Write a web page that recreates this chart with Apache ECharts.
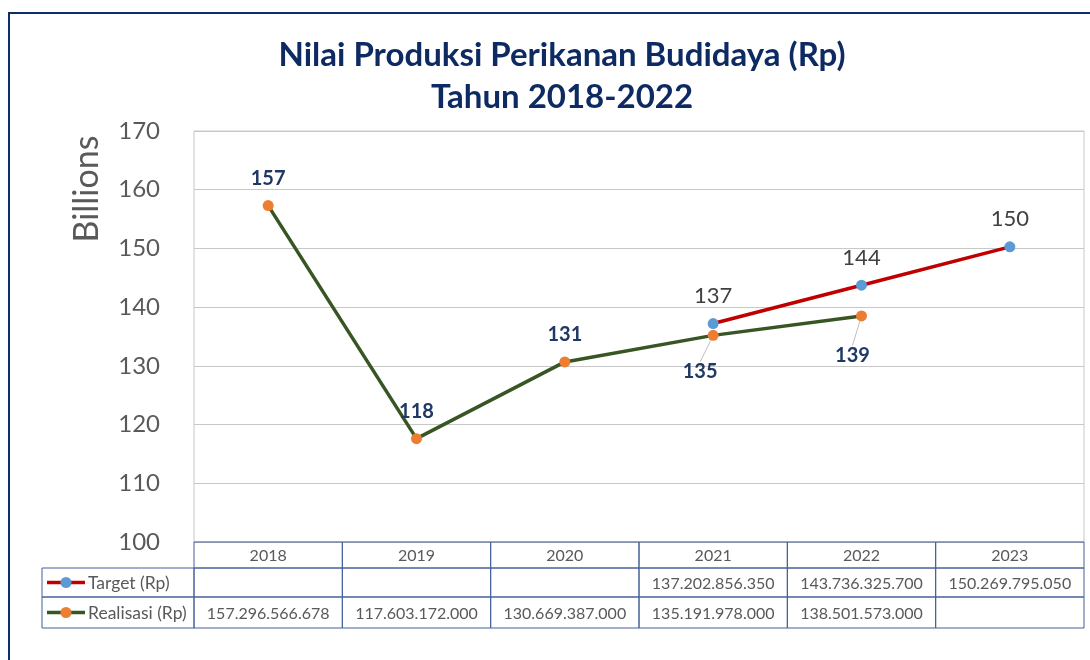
<!DOCTYPE html>
<html>
<head>
<meta charset="utf-8">
<script src="https://cdn.jsdelivr.net/npm/echarts@6/dist/echarts.min.js"></script>
<style>
  html, body { margin: 0; padding: 0; background: #fff; }
  #main { width: 1090px; height: 660px; }
</style>
</head>
<body>
<div id="main"></div>
<script>
// data
var years = ['2018', '2019', '2020', '2021', '2022', '2023'];
var targetRp = [null, null, null, 137202856350, 143736325700, 150269795050];
var realisasiRp = [157296566678, 117603172000, 130669387000, 135191978000, 138501573000, null];
var yTicks = [100, 110, 120, 130, 140, 150, 160, 170];

var chart = echarts.init(document.getElementById('main'));

function toBillions(v) { return v == null ? null : v / 1e9; }
function fmtRp(v) {
  if (v == null) return '';
  return String(v).replace(/\B(?=(\d{3})+(?!\d))/g, '.');
}

// grid in px
var gLeft = 194, gRight = 6, gTop = 131, gBottom = 118;
var rowH = [26, 29, 31];
var tableBorder = '#44619a';
var textGray = '#595959';

// 2021 and 2022 realisasi labels sit below with a leader line
var realData = realisasiRp.map(function (v, i) {
  var item = { value: toBillions(v) };
  if (i === 3 || i === 4) {
    item.label = { position: 'bottom' };
    item.labelLine = { show: true, lineStyle: { color: '#bfbfbf', width: 1 } };
  }
  return item;
});

var option = {
  animation: false,
  title: {
    text: 'Nilai Produksi Perikanan Budidaya (Rp)\nTahun 2018-2022',
    left: 557,
    textAlign: 'center',
    top: 29,
    textStyle: {
      fontFamily: 'Lato',
      fontWeight: 'bold',
      fontSize: 33,
      lineHeight: 42,
      color: '#0e2a63'
    }
  },
  grid: {
    left: gLeft, right: gRight, top: gTop, bottom: gBottom,
    show: true, borderColor: '#c8c8c8', borderWidth: 1
  },
  xAxis: {
    type: 'category',
    data: years,
    boundaryGap: true,
    axisLine: { show: false },
    axisTick: { show: false },
    axisLabel: { show: false }
  },
  yAxis: {
    type: 'value',
    min: yTicks[0],
    max: yTicks[yTicks.length - 1],
    interval: 10,
    axisLine: { show: false },
    axisTick: { show: false },
    axisLabel: { fontFamily: 'Lato', fontSize: 24, color: textGray, margin: 34 },
    splitLine: { lineStyle: { color: '#c8c8c8', width: 1 } }
  },
  series: [
    {
      name: 'Realisasi (Rp)',
      type: 'line',
      data: realData,
      symbol: 'circle',
      symbolSize: 11,
      lineStyle: { color: '#375623', width: 3.5 },
      itemStyle: { color: '#ed7d31' },
      z: 2,
      label: {
        show: true,
        position: 'top',
        distance: 12,
        fontFamily: 'Lato',
        fontWeight: 'bold',
        fontSize: 20,
        color: '#1f3864',
        formatter: function (p) { return Math.round(p.value); }
      },
      labelLayout: function (p) {
        if (p.dataIndex === 3) return { dx: -13, dy: 9 };
        if (p.dataIndex === 4) return { dx: -9, dy: 12 };
        return {};
      }
    },
    {
      name: 'Target (Rp)',
      type: 'line',
      data: targetRp.map(toBillions),
      symbol: 'circle',
      symbolSize: 11,
      lineStyle: { color: '#c00000', width: 3.5 },
      itemStyle: { color: '#5b9bd5' },
      z: 3,
      label: {
        show: true,
        position: 'top',
        distance: 11,
        fontFamily: 'Lato',
        fontSize: 22,
        color: '#404040',
        formatter: function (p) { return Math.round(p.value); }
      }
    }
  ]
};
chart.setOption(option);

// data table under the plot, laid out from the category axis
function buildTable() {
  var W = chart.getWidth(), H = chart.getHeight();
  var top0 = H - gBottom;
  var cx = years.map(function (y, i) { return chart.convertToPixel({ xAxisIndex: 0 }, i); });
  var cw = cx[1] - cx[0];
  var els = [];
  var txt = function (x, y, s, align, size) {
    return {
      type: 'text', x: x, y: y, silent: true,
      style: { text: s, fontFamily: 'Lato', fontSize: size || 16, fill: textGray, align: align || 'center', verticalAlign: 'middle' }
    };
  };
  var cell = function (x, y, w, h) {
    return { type: 'rect', silent: true, shape: { x: x, y: y, width: w, height: h },
      style: { fill: null, stroke: tableBorder, lineWidth: 1 } };
  };
  var y1 = top0 + rowH[0], y2 = y1 + rowH[1];
  var rows = [
    { y: top0, h: rowH[0], vals: years },
    { y: y1, h: rowH[1], vals: targetRp.map(fmtRp) },
    { y: y2, h: rowH[2], vals: realisasiRp.map(fmtRp) }
  ];
  rows.forEach(function (r) {
    cx.forEach(function (x, i) {
      els.push(cell(x - cw / 2, r.y, cw, r.h));
      els.push(txt(x, r.y + r.h / 2 + 1, r.vals[i]));
    });
  });
  // legend column
  var lx = 42;
  var legends = [
    { y: y1, h: rowH[1], name: 'Target (Rp)', line: '#c00000', dot: '#5b9bd5' },
    { y: y2, h: rowH[2], name: 'Realisasi (Rp)', line: '#375623', dot: '#ed7d31' }
  ];
  legends.forEach(function (l) {
    var my = l.y + l.h / 2;
    els.push(cell(lx, l.y, gLeft - lx, l.h));
    els.push({ type: 'line', silent: true, shape: { x1: lx + 5, y1: my, x2: lx + 43, y2: my },
      style: { stroke: l.line, lineWidth: 3.5 } });
    els.push({ type: 'circle', silent: true, shape: { cx: lx + 24, cy: my, r: 5.5 }, style: { fill: l.dot } });
    els.push(txt(lx + 46, my + 1, l.name, 'left', 17.5));
  });
  // y axis title
  els.push({
    type: 'text', silent: true, x: 87, y: 189, rotation: Math.PI / 2,
    style: { text: 'Billions', fontFamily: 'Lato', fontSize: 34, fill: textGray, align: 'center', verticalAlign: 'middle' }
  });
  // outer chart border
  els.push({ type: 'rect', silent: true, shape: { x: 9, y: 13, width: W + 20, height: H + 20 },
    style: { fill: null, stroke: '#0f2d6b', lineWidth: 2 } });
  chart.setOption({ graphic: els });
}
buildTable();
</script>
</body>
</html>
